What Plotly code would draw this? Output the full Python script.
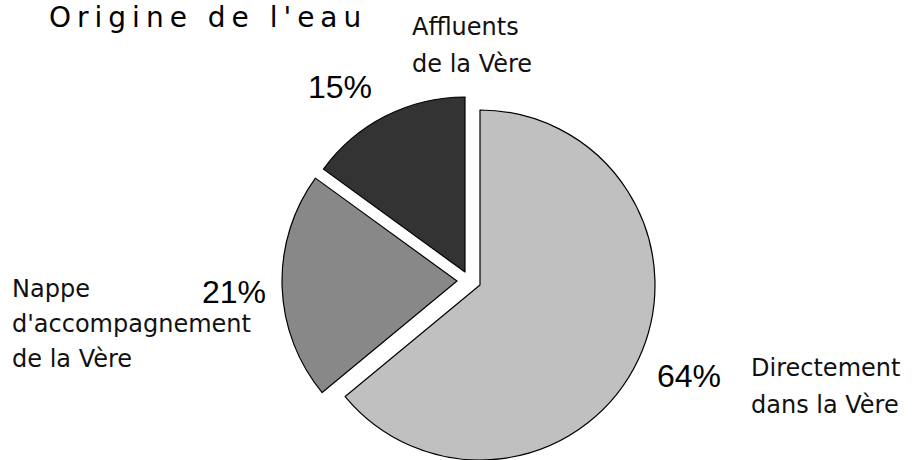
import plotly.graph_objects as go

# ---- data ----
title = "Origine de l'eau"
categories = ["Directement<br>dans la Vère",
              "Nappe<br>d'accompagnement<br>de la Vère",
              "Affluents<br>de la Vère"]
values = [64, 21, 15]
colors = ["#C0C0C0", "#888888", "#333333"]

W, H = 922, 460
R = 175  # pie radius in px
# apex (pulled centre) of each slice, px from top-left
apex = [(480, 285), (457, 281), (465, 272)]

fig = go.Figure()
for i, (cx, cy) in enumerate(apex):
    mcol = [colors[j] if j == i else "rgba(0,0,0,0)" for j in range(len(values))]
    lcol = ["#000000" if j == i else "rgba(0,0,0,0)" for j in range(len(values))]
    fig.add_trace(go.Pie(
        labels=categories, values=values, sort=False,
        direction="clockwise", rotation=0,
        marker=dict(colors=mcol, line=dict(color=lcol, width=1.2)),
        textinfo="none", hoverinfo="skip", showlegend=False,
        domain=dict(x=[max(0.0, (cx - R) / W), min(1.0, (cx + R) / W)],
                    y=[max(0.0, (H - cy - R) / H), min(1.0, (H - cy + R) / H)]),
    ))

def px(x, y):
    return x / W, 1 - y / H

annotations = []
# title
tx, ty = px(47, 17)
annotations.append(dict(text=title, x=tx, y=ty, xref="paper", yref="paper",
                        xanchor="left", yanchor="middle", align="left",
                        width=340, showarrow=False,
                        font=dict(family="DejaVu Sans", size=28, color="#000")))

# category labels: (left x, first baseline, line step)
label_pos = [(749, 376, 37), (10, 297, 35), (410, 35, 37)]
LS = 24
for cat, (lx, b0, step) in zip(categories, label_pos):
    for k, line in enumerate(cat.split("<br>")):
        x, y = px(lx, b0 + k * step - 0.35 * LS)
        annotations.append(dict(text=line, x=x, y=y, xref="paper", yref="paper",
                                xanchor="left", yanchor="middle", align="left",
                                showarrow=False,
                                font=dict(family="DejaVu Sans", size=LS, color="#111")))

# percentage labels: (left x, baseline)
pct_pos = [(655, 387), (200, 303), (306, 98)]
PS = 32
for v, (lx, b) in zip(values, pct_pos):
    x, y = px(lx, b - 0.35 * PS)
    annotations.append(dict(text=f"{v}%", x=x, y=y, xref="paper", yref="paper",
                            xanchor="left", yanchor="middle", align="left",
                            showarrow=False,
                            font=dict(family="Liberation Sans", size=PS, color="#000")))

fig.update_layout(width=W, height=H, margin=dict(l=0, r=0, t=0, b=0),
                  paper_bgcolor="white", plot_bgcolor="white",
                  annotations=annotations)

post = """
document.body.style.margin = '0';
document.body.style.overflow = 'hidden';
var gd = document.getElementById('{plot_id}');
function ls(){
  gd.querySelectorAll('text.annotation-text').forEach(function(t){
    if (t.textContent.indexOf('Origine') === 0) { t.style.letterSpacing = '6px'; }
  });
}
ls();
gd.on('plotly_afterplot', ls);
"""
fig.write_html("out.html", post_script=post, config={"displayModeBar": False})
